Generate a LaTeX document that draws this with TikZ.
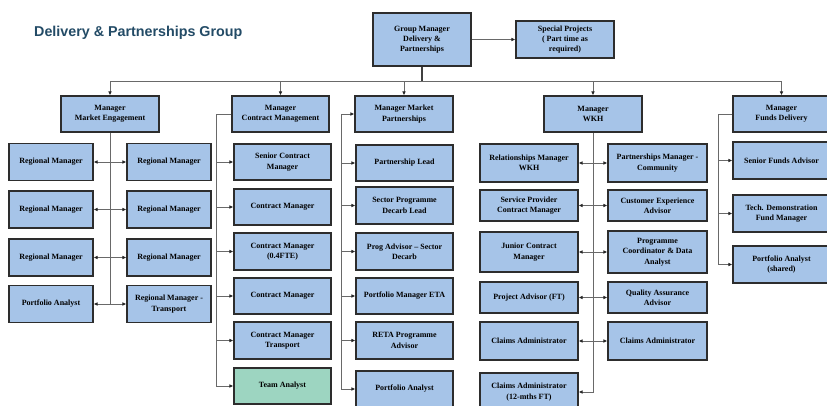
\documentclass[tikz,border=0pt]{standalone}
\usepackage{fontspec}
\setmainfont{Liberation Serif}
\newfontfamily\titlefont{Liberation Sans}
\usetikzlibrary{arrows.meta,calc}
\definecolor{boxblue}{RGB}{166,196,232}
\definecolor{boxgreen}{RGB}{157,213,193}
\definecolor{titleblue}{RGB}{35,75,102}
\definecolor{linegray}{RGB}{105,105,105}
\definecolor{boxedge}{RGB}{45,45,45}
\tikzset{
  orgbox/.style={draw=boxedge,line width=1.1pt,fill=boxblue,align=center,inner sep=1pt,
    font=\bfseries\fontsize{8}{10.3}\selectfont},
  conn/.style={draw=linegray,line width=0.8pt},
  tip/.style={-{Latex[length=4pt,width=3.6pt,color=black!85]}},
  tips/.style={{Latex[length=4pt,width=3.6pt,color=black!85]}-{Latex[length=4pt,width=3.6pt,color=black!85]}},
}
\newcommand\ob[7][]{\pgfmathsetmacro\obw{#5-#3}\pgfmathsetmacro\obh{#6-#4}%
  \pgfmathsetmacro\obx{(#3+#5)/2}\pgfmathsetmacro\oby{(#4+#6)/2}%
  \node[orgbox,#1,minimum width=\obw pt,minimum height=\obh pt] (#2) at (\obx,\oby) {#7};}
\begin{document}
\begin{tikzpicture}[x=1pt,y=-1pt]
\useasboundingbox (0,0) rectangle (827,405);
\node[anchor=west,inner sep=0,font=\titlefont\bfseries\fontsize{14.3}{16}\selectfont,text=titleblue] (title) at (34,33) {Delivery \& Partnerships Group};
% top
\ob{gm}{373}{13}{471}{66}{Group Manager\\Delivery \&\\Partnerships}
\ob{sp}{516}{21}{614}{58}{Special Projects\\( Part time as\\required)}
% managers
\ob{mme}{61}{96}{159}{132}{Manager\\Market Engagement}
\ob{mcm}{232}{96}{329}{132}{Manager\\Contract Management}
\ob{mmp}{355}{96}{453}{132}{Manager Market\\Partnerships}
\ob{mwkh}{544}{96}{642}{132}{Manager\\WKH}
\ob{mfd}{733}{96}{830}{132}{Manager\\Funds Delivery}
% market engagement
\ob{rl1}{9}{143.5}{93}{180.5}{Regional Manager}
\ob{rl2}{9}{191}{93}{228}{Regional Manager}
\ob{rl3}{9}{239}{93}{276}{Regional Manager}
\ob{pa1}{9}{285.5}{93}{322.5}{Portfolio Analyst}
\ob{rr1}{127}{143.5}{211}{180.5}{Regional Manager}
\ob{rr2}{127}{191}{211}{228}{Regional Manager}
\ob{rr3}{127}{239}{211}{276}{Regional Manager}
\ob{rr4}{127}{285.5}{211}{322.5}{Regional Manager -\\Transport}
% contract management
\ob{c1}{234}{144}{331}{180}{Senior Contract\\Manager}
\ob{c2}{234}{189}{331}{225}{Contract Manager}
\ob{c3}{234}{233}{331}{270}{Contract Manager\\(0.4FTE)}
\ob{c4}{234}{278}{331}{314}{Contract Manager}
\ob{c5}{234}{322}{331}{359}{Contract Manager\\Transport}
\ob[fill=boxgreen]{c6}{234}{368}{331}{404}{Team Analyst}
% market partnerships
\ob{p1}{356}{145}{453}{181}{Partnership Lead}
\ob{p2}{356}{187}{453}{224}{Sector Programme\\Decarb Lead}
\ob{p3}{356}{233}{453}{270}{Prog Advisor – Sector\\Decarb}
\ob{p4}{356}{278}{453}{314}{Portfolio Manager ETA}
\ob{p5}{356}{322}{453}{359}{RETA Programme\\Advisor}
\ob{p6}{356}{371}{453}{407}{Portfolio Analyst}
% WKH
\ob{wl1}{480}{144}{578}{182}{Relationships Manager\\WKH}
\ob{wl2}{480}{190}{578}{221}{Service Provider\\Contract Manager}
\ob{wl3}{480}{232}{578}{272}{Junior Contract\\Manager}
\ob{wl4}{480}{282}{578}{313}{Project Advisor (FT)}
\ob{wl5}{480}{322}{578}{360}{Claims Administrator}
\ob{wl6}{480}{373}{578}{411}{Claims Administrator\\(12-mths FT)}
\ob{wr1}{608}{144}{707}{182}{Partnerships Manager -\\Community}
\ob{wr2}{608}{190}{707}{221}{Customer Experience\\Advisor}
\ob{wr3}{608}{231}{707}{273}{Programme\\Coordinator \& Data\\Analyst}
\ob{wr4}{608}{282}{707}{313}{Quality Assurance\\Advisor}
\ob{wr5}{608}{322}{707}{360}{Claims Administrator}
% funds delivery
\ob{f1}{733}{142}{830}{179}{Senior Funds Advisor}
\ob{f2}{733}{195}{830}{232}{Tech. Demonstration\\Fund Manager}
\ob{f3}{733}{246}{830}{283}{Portfolio Analyst\\(shared)}
% connectors: top
\coordinate (bus) at (422,81);
\draw[conn,tip] (gm.east) -- (sp.west);
\draw[draw=black!75,line width=1.6pt] (gm.south) -- (gm.south |- bus);
\draw[conn] (mme.north |- bus) -- (mfd.north |- bus);
\foreach \m in {mme,mcm,mmp,mwkh,mfd}{\draw[conn,tip] (\m.north |- bus) -- (\m.north);}
% market engagement
\draw[conn] (mme.south) -- (mme.south |- pa1.east);
\draw[conn,tips] (rl1.east) -- (rr1.west);
\draw[conn,tips] (rl2.east) -- (rr2.west);
\draw[conn,tips] (rl3.east) -- (rr3.west);
\draw[conn,tips] (pa1.east) -- (rr4.west);
% contract management
\coordinate (cmx) at ([xshift=-15pt]mcm.west);
\draw[conn,tip] (mcm.west) -- (cmx) |- (c6.west);
\foreach \c in {c1,c2,c3,c4,c5}{\draw[conn,tip] (cmx |- \c.west) -- (\c.west);}
% market partnerships
\coordinate (mpx) at ([xshift=-13pt]mmp.west);
\draw[conn,tip] (mpx) -- (mmp.west);
\draw[conn,tip] (mpx) |- (p6.west);
\foreach \c in {p1,p2,p3,p4,p5}{\draw[conn,tip] (mpx |- \c.west) -- (\c.west);}
% WKH
\draw[conn,tip] (mwkh.south) |- (wl6.east);
\foreach \i in {1,2,3,4,5}{\draw[conn,tips] (wl\i.east) -- (wr\i.west);}
% funds delivery
\coordinate (fdx) at ([xshift=-14pt]mfd.west);
\draw[conn,tip] (mfd.west) -- (fdx) |- (f3.west);
\foreach \c in {f1,f2}{\draw[conn,tip] (fdx |- \c.west) -- (\c.west);}
\end{tikzpicture}
\end{document}
